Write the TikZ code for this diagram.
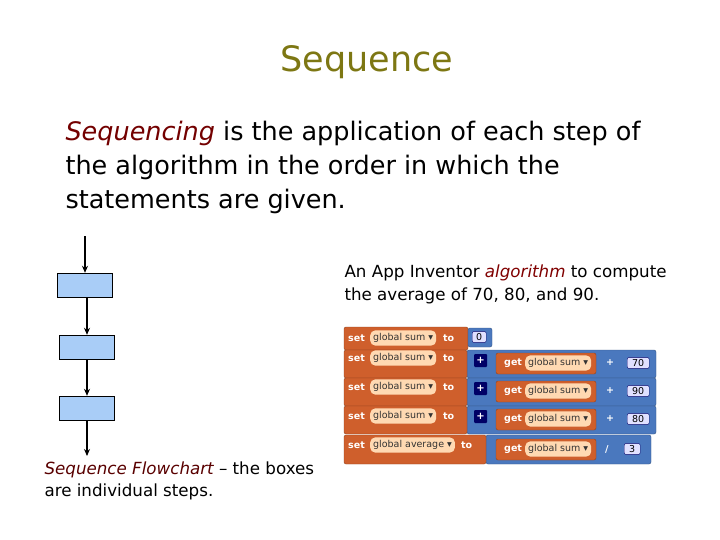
\documentclass[tikz,border=0pt]{standalone}
\usepackage{fontspec}
\setmainfont{DejaVu Sans}
\usetikzlibrary{arrows.meta}
\definecolor{bor}{HTML}{CF5F2C}
\definecolor{bbl}{HTML}{4A78BE}
\definecolor{fbox}{HTML}{A9CDF7}
\begin{document}
\begin{tikzpicture}[x=1pt,y=-1pt,
  box/.style={draw=black,fill=fbox,minimum width=55pt,minimum height=24pt,inner sep=0},
  arr/.style={line width=1.6pt,-{Stealth[length=7pt,width=6pt]}},
  ob/.style={fill=bor,draw=bor!70!black,rounded corners=2pt},
  bb/.style={fill=bbl,draw=bbl!70!black,rounded corners=2pt},
  kw/.style={text=white,font=\bfseries\fontsize{9.5}{10}\selectfont,inner sep=1pt,anchor=west},
  pill/.style={fill=orange!30!white,rounded corners=5pt,inner sep=3pt,anchor=west,font=\fontsize{9.5}{10}\selectfont,text=black!80},
  num/.style={fill=blue!12!white,draw=blue!40!black,rounded corners=2pt,inner sep=2pt,anchor=west,font=\fontsize{9.5}{10}\selectfont,minimum width=22pt}]
\useasboundingbox (0,0) rectangle (720,540);
\node[text=olive!85!black,font=\fontsize{35}{40}\selectfont] (title) at (367,62) {Sequence};
\node[anchor=west,font=\fontsize{25.5}{34}\selectfont,align=left] (body) at (62,167)
 {\textcolor{red!45!black}{\itshape Sequencing} is the application of each step of\\the algorithm in the order in which the\\statements are given.};
\node[anchor=west,font=\fontsize{16.7}{23}\selectfont,align=left] (cap1) at (341,284)
 {An App Inventor \textcolor{red!50!black}{\itshape algorithm} to compute\\the average of 70, 80, and 90.};
\node[anchor=west,font=\fontsize{16.7}{22}\selectfont,align=left] (cap2) at (41,481)
 {\textcolor{red!35!black}{\itshape Sequence Flowchart} – the boxes\\are individual steps.};
% flowchart
\node[box] (b1) at (85,285) {};
\node[box] (b2) at (87,347) {};
\node[box] (b3) at (87,408) {};
\coordinate (top) at (b1.north |- 0,236);
\coordinate (bot) at (b3.south |- 0,456);
\draw[arr] (top) -- (b1.north);
\draw[arr] (b1.south -| b2.north) -- (b2.north);
\draw[arr] (b2.south) -- (b3.north);
\draw[arr] (b3.south) -- (bot);
% blocks
\foreach \y in {350,378,406}{
  \draw[bb] (467,\y) rectangle (656,\y+28);
  \draw[ob] (496,\y+3) rectangle (596,\y+24);
  \node[kw] at (503,\y+13) {get};
  \node[pill] at (525,\y+13) {global sum ▾};
  \node[kw] at (605,\y+13) {+};
  \fill[blue!40!black,rounded corners=1pt] (474,\y+4) rectangle (487,\y+17);
  \node[text=white,font=\bfseries] at (480.5,\y+10.5) {+};
}
\draw[bb] (486,435) rectangle (651,464);
\draw[ob] (496,439) rectangle (596,460);
\node[kw] at (503,449) {get};
\node[pill] at (525,449) {global sum ▾};
\node[kw] at (604,449) {/};
\node[num,minimum width=16pt] at (624,449) {3};
\node[num] at (627,363) {70};
\node[num] at (627,391) {90};
\node[num] at (627,419) {80};
\draw[ob] (344,327) rectangle (468,350);
\draw[bb] (468,328) rectangle (492,347);
\node[num,minimum width=14pt] at (472,337) {0};
\foreach \y in {350,378,406}{ \draw[ob] (344,\y) rectangle (467,\y+28); }
\draw[ob] (344,435) rectangle (486,464);
\foreach \y/\t in {338/global sum ▾,358/global sum ▾,387/global sum ▾,416/global sum ▾,445/global average ▾}{
  \node[kw] at (347,\y) {set};
  \node[pill] at (370,\y) {\t};
}
\foreach \y in {338,358,387,416}{ \node[kw] at (442,\y) {to}; }
\node[kw] at (460,445) {to};
\end{tikzpicture}
\end{document}
